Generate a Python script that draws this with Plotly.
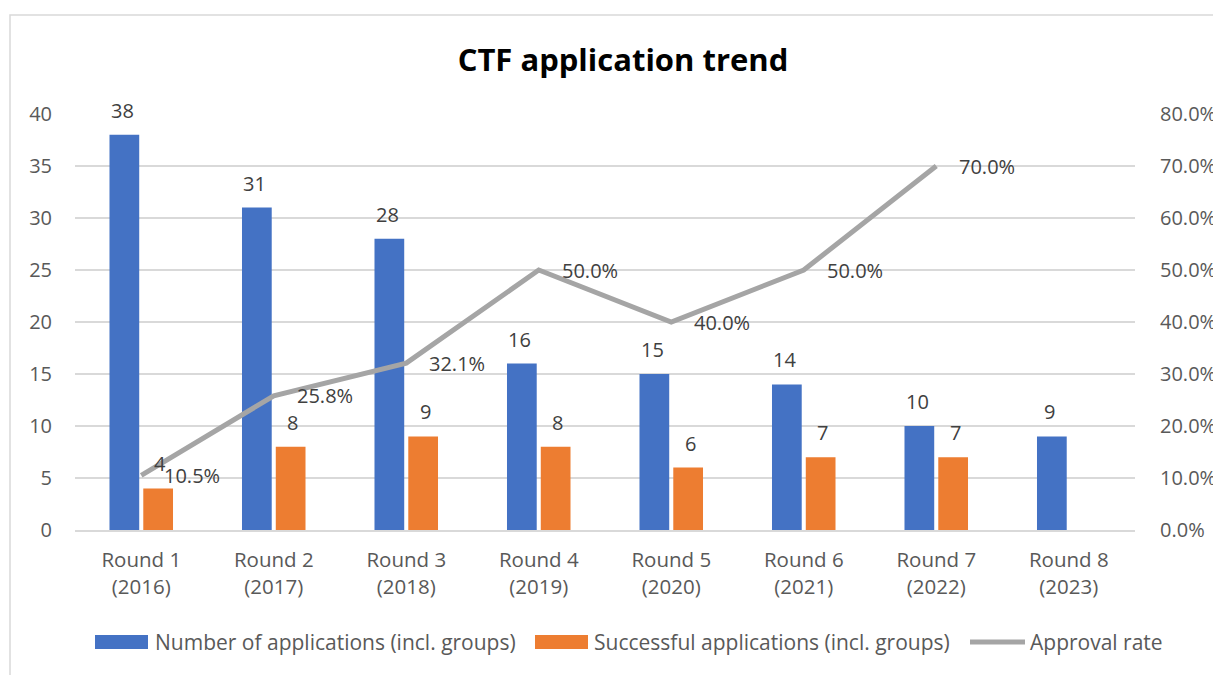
import plotly.graph_objects as go

categories = ["Round 1<br>(2016)", "Round 2<br>(2017)", "Round 3<br>(2018)", "Round 4<br>(2019)",
              "Round 5<br>(2020)", "Round 6<br>(2021)", "Round 7<br>(2022)", "Round 8<br>(2023)"]
applications = [38, 31, 28, 16, 15, 14, 10, 9]
successful = [4, 8, 9, 8, 6, 7, 7, None]
approval_rate = [0.105, 0.258, 0.321, 0.50, 0.40, 0.50, 0.70, None]

series_names = ["Number of applications (incl. groups)",
                "Successful applications (incl. groups)",
                "Approval rate"]
series_colors = ["#4472C4", "#ED7D31", "#A5A5A5"]

FONT = "Open Sans"
TXT = "#404040"
TICK = "#595959"

fig = go.Figure()
fig.add_trace(go.Bar(
    x=categories, y=applications, name=series_names[0],
    marker=dict(color=series_colors[0], line=dict(width=0)), showlegend=False,
))
fig.add_trace(go.Bar(
    x=categories, y=successful, name=series_names[1],
    marker=dict(color=series_colors[1], line=dict(width=0)), showlegend=False,
))
fig.add_trace(go.Scatter(
    x=categories, y=approval_rate, name=series_names[2], yaxis="y2",
    mode="lines", line=dict(color=series_colors[2], width=5), showlegend=False,
))

annotations = []
for c, v in zip(categories, applications):
    annotations.append(dict(x=c, y=v, xref="x", yref="y", text=str(v), showarrow=False,
                            xshift=-19, yshift=9, yanchor="bottom",
                            font=dict(size=20, color=TXT, family=FONT)))
for c, v in zip(categories, successful):
    if v is not None:
        annotations.append(dict(x=c, y=v, xref="x", yref="y", text=str(v), showarrow=False,
                                xshift=19, yshift=9, yanchor="bottom",
                                font=dict(size=20, color=TXT, family=FONT)))
for c, v in zip(categories, approval_rate):
    if v is not None:
        annotations.append(dict(x=c, y=v, xref="x", yref="y2", text=f"{v*100:.1f}%",
                                showarrow=False, xanchor="left", yanchor="middle", xshift=21,
                                font=dict(size=20, color=TXT, family=FONT)))

# page body has an 8px offset; figure sized to fit the window
W, H = 1213, 667
L, R, T, B = 67, 86, 106, 145
ph = H - T - B
pw = W - L - R


def px(xp):  # page x pixel -> paper x
    return (xp - 8 - L) / pw


def py(yp):  # page y pixel -> paper y
    return (T + ph - (yp - 8)) / ph


# chart border (light grey frame)
fig.add_shape(type="rect", xref="paper", yref="paper",
              x0=px(10), x1=px(1240), y0=py(690), y1=py(15),
              line=dict(color="#D9D9D9", width=1.5), fillcolor="rgba(0,0,0,0)", layer="below")

# legend (drawn as swatches + text)
leg_y = 642
swatch_x = [(95, 148), (535, 588), (970, 1025)]
text_x = [153, 592, 1028]
for i, name in enumerate(series_names):
    x0, x1 = swatch_x[i]
    if i < 2:
        fig.add_shape(type="rect", xref="paper", yref="paper",
                      x0=px(x0), x1=px(x1), y0=py(leg_y + 7), y1=py(leg_y - 7),
                      line=dict(width=0), fillcolor=series_colors[i])
    else:
        fig.add_shape(type="line", xref="paper", yref="paper",
                      x0=px(x0), x1=px(x1), y0=py(leg_y), y1=py(leg_y),
                      line=dict(color=series_colors[i], width=5))
    annotations.append(dict(x=px(text_x[i]), y=py(leg_y), xref="paper", yref="paper",
                            text=name, showarrow=False, xanchor="left", yanchor="middle",
                            font=dict(size=21, color=TICK, family=FONT)))

fig.update_layout(
    width=W, height=H,
    paper_bgcolor="white", plot_bgcolor="white",
    margin=dict(l=L, r=R, t=T, b=B, autoexpand=False),
    title=dict(text="<b>CTF application trend</b>", x=(623 - 8) / W, xanchor="center",
               y=(H - 52) / H, yanchor="middle",
               font=dict(size=31, color="black", family=FONT)),
    barmode="group", bargap=0.49, bargroupgap=0.12,
    font=dict(family=FONT, color=TICK, size=18),
    annotations=annotations,
    showlegend=False,
    xaxis=dict(showgrid=False, showline=True, linecolor="#D9D9D9", linewidth=1.5,
               tickfont=dict(size=20.5, color=TICK), ticks="", ticklabelstandoff=11),
    yaxis=dict(range=[0, 40], dtick=5, showgrid=True, gridcolor="#D9D9D9", gridwidth=1.5,
               zeroline=False, showline=False, tickfont=dict(size=20, color=TICK),
               ticklabelstandoff=22),
    yaxis2=dict(range=[0, 0.8], dtick=0.1, tickformat=".1%", overlaying="y", side="right",
                showgrid=False, zeroline=False, showline=False,
                tickfont=dict(size=20, color=TICK), ticklabelstandoff=24),
)

fig.write_html("out.html")
